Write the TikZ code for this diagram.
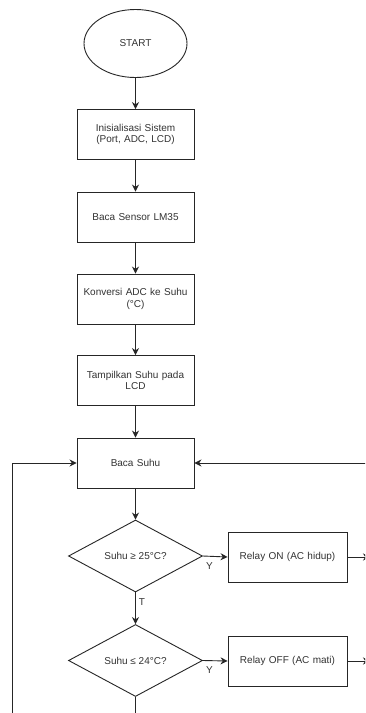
\documentclass[tikz,border=0pt]{standalone}
\usepackage{fontspec}
\setmainfont{Liberation Sans}
\usetikzlibrary{shapes.geometric,arrows.meta}
\definecolor{txt}{HTML}{333333}
\tikzset{
  every node/.style={font=\fontsize{10}{11.5}\selectfont, text=txt},
  proc/.style={draw=black!85, line width=0.9pt, rectangle, minimum width=117pt, minimum height=50pt, inner sep=2pt, align=center, text width=112pt},
  term/.style={draw=black!85, line width=0.9pt, ellipse, minimum width=103pt, minimum height=68pt, inner sep=0pt},
  dec/.style={draw=black!85, line width=0.9pt, diamond, aspect=1.86, minimum width=134pt, minimum height=72pt, inner sep=0pt},
  conn/.style={draw=black!85, line width=0.9pt, -{Stealth[length=7pt,width=7pt]}},
  plain/.style={draw=black!85, line width=0.9pt},
  lbl/.style={inner sep=0pt}
}
\begin{document}
\begin{tikzpicture}[x=1pt,y=-1pt]
\clip (0,0) rectangle (365,713);
\fill[white] (0,0) rectangle (365,713);
\node[term] (start) at (135.5,43.5) {START};
\node[proc] (init) at (135.5,134.5) {Inisialisasi Sistem\\(Port, ADC, LCD)};
\node[proc] (sensor) at (135.5,217) {Baca Sensor LM35};
\node[proc] (konv) at (135.5,299) {Konversi ADC ke Suhu\\(°C)};
\node[proc] (tamp) at (135.5,380.5) {Tampilkan Suhu pada\\LCD};
\node[proc] (baca) at (135.5,463) {Baca Suhu};
\node[dec] (d1) at (135.5,556) {Suhu ≥ 25°C?};
\node[proc, minimum width=119pt] (on) at (287.5,557) {Relay ON (AC hidup)};
\node[dec] (d2) at (135.5,660.5) {Suhu ≤ 24°C?};
\node[proc, minimum width=119pt] (off) at (287.5,661) {Relay OFF (AC mati)};
\coordinate (onend) at (370,557);
\coordinate (offend) at (370,661);
\coordinate (rin) at (370,463);
\coordinate (lbot) at (12.7,720);
\coordinate (lcorner) at (12.7,463);
\coordinate (d2bot) at (135.5,720);

\draw[conn] (start) -- (init);
\draw[conn] (init) -- (sensor);
\draw[conn] (sensor) -- (konv);
\draw[conn] (konv) -- (tamp);
\draw[conn] (tamp) -- (baca);
\draw[conn] (baca) -- (d1);
\draw[conn] (d1) -- (d2);
\draw[conn] (d1.east) -- (on.west);
\draw[conn] (d2.east) -- (off.west);
\draw[conn] (on.east) -- (onend);
\draw[conn] (off.east) -- (offend);
\draw[conn] (rin) -- (baca.east);
\draw[conn] (lbot) -- (lcorner) -- (baca.west);
\draw[plain] (d2.south) -- (d2bot);

\node[lbl] (y1) at (209.5,566) {Y};
\node[lbl] (y2) at (209.5,670.5) {Y};
\node[lbl] (t1) at (142,602) {T};
\end{tikzpicture}
\end{document}
